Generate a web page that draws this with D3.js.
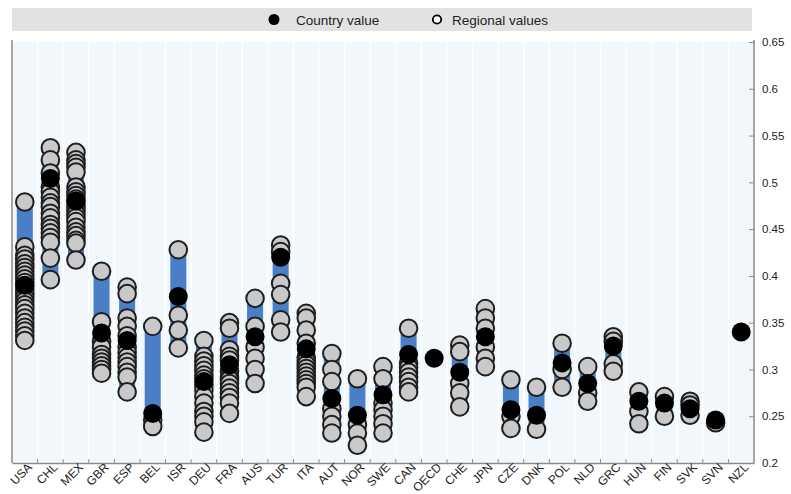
<!DOCTYPE html>
<html>
<head>
<meta charset="utf-8">
<script src="https://cdn.jsdelivr.net/npm/d3@7"></script>
<style>
  body { margin: 0; background: #fff; }
  text { font-family: "Liberation Sans Narrow", "Arial Narrow", "Liberation Sans", Arial, sans-serif; fill: #222; }
</style>
</head>
<body>
<div class="chart"></div>
<script>
const countries = ["USA","CHL","MEX","GBR","ESP","BEL","ISR","DEU","FRA","AUS","TUR","ITA","AUT","NOR","SWE","CAN","OECD","CHE","JPN","CZE","DNK","POL","NLD","GRC","HUN","FIN","SVK","SVN","NZL"];

const countryValue = [0.39,0.504,0.48,0.339,0.331,0.253,0.378,0.287,0.305,0.335,0.42,0.322,0.269,0.251,0.273,0.316,0.312,0.297,0.335,0.257,0.251,0.307,0.285,0.325,0.266,0.264,0.258,0.246,0.34];

const regionalValues = [
  [0.479,0.431,0.422,0.418,0.413,0.409,0.405,0.401,0.397,0.393,0.389,0.385,0.381,0.377,0.373,0.369,0.365,0.36,0.355,0.35,0.345,0.341,0.336,0.331],
  [0.537,0.524,0.51,0.495,0.49,0.484,0.478,0.474,0.467,0.462,0.455,0.451,0.446,0.441,0.436,0.419,0.396],
  [0.532,0.524,0.52,0.516,0.511,0.495,0.49,0.486,0.482,0.478,0.474,0.47,0.466,0.462,0.458,0.452,0.447,0.443,0.438,0.435,0.417],
  [0.405,0.351,0.33,0.324,0.316,0.312,0.308,0.304,0.3,0.296],
  [0.388,0.381,0.355,0.346,0.336,0.324,0.318,0.313,0.308,0.303,0.297,0.292,0.276],
  [0.346,0.246,0.239],
  [0.428,0.358,0.342,0.323],
  [0.331,0.314,0.309,0.304,0.299,0.294,0.29,0.283,0.278,0.271,0.264,0.255,0.25,0.244,0.233],
  [0.35,0.344,0.321,0.314,0.31,0.298,0.292,0.289,0.285,0.28,0.275,0.27,0.264,0.253],
  [0.376,0.346,0.324,0.312,0.3,0.285],
  [0.433,0.426,0.392,0.38,0.353,0.34],
  [0.36,0.355,0.342,0.328,0.313,0.309,0.305,0.301,0.297,0.293,0.289,0.285,0.281,0.271],
  [0.317,0.3,0.287,0.258,0.25,0.241,0.232],
  [0.29,0.241,0.232,0.219],
  [0.303,0.29,0.264,0.257,0.25,0.242,0.232],
  [0.344,0.307,0.302,0.297,0.292,0.287,0.281,0.276],
  [],
  [0.326,0.319,0.285,0.275,0.26],
  [0.365,0.355,0.344,0.324,0.312,0.303],
  [0.289,0.25,0.237],
  [0.281,0.236],
  [0.328,0.3,0.281],
  [0.303,0.275,0.266],
  [0.335,0.33,0.306,0.298],
  [0.276,0.255,0.242],
  [0.271,0.25],
  [0.266,0.262,0.251],
  [0.243],
  []
];

const yTicks = [0.2,0.25,0.3,0.35,0.4,0.45,0.5,0.55,0.6,0.65];

const W = 791, H = 494;
const plot = {left: 12, right: 754, top: 42, bottom: 463};

const svg = d3.select(".chart").append("svg")
  .attr("width", W).attr("height", H);

const x = d3.scaleBand().domain(countries).range([plot.left, plot.right]);
const y = d3.scaleLinear().domain([0.2, 0.65]).range([plot.bottom, plot.top]);

// legend band
svg.append("rect")
  .attr("x", 12).attr("y", 8).attr("width", 740).attr("height", 23)
  .attr("fill", "#e2e2e2");
svg.append("circle").attr("cx", 274).attr("cy", 19.5).attr("r", 5.5).attr("fill", "#000");
svg.append("text").attr("x", 296).attr("y", 24.5).attr("font-size", "13.5px").text("Country value");
svg.append("circle").attr("cx", 437).attr("cy", 19.5).attr("r", 4.2)
  .attr("fill", "#fff").attr("stroke", "#000").attr("stroke-width", 1.8);
svg.append("text").attr("x", 452).attr("y", 24.5).attr("font-size", "13.5px").text("Regional values");

// plot background
svg.append("rect")
  .attr("x", plot.left).attr("y", plot.top)
  .attr("width", plot.right - plot.left).attr("height", plot.bottom - plot.top)
  .attr("fill", "#f1f7fb");

svg.append("g").selectAll("line.grid")
  .data(countries.slice(1))
  .enter().append("line")
  .attr("x1", d => x(d)).attr("x2", d => x(d))
  .attr("y1", plot.top).attr("y2", plot.bottom)
  .attr("stroke", "#fcfeff").attr("stroke-width", 1.5);

// blue range bars
const rows = countries.map((c, i) => ({c, v: countryValue[i], r: regionalValues[i]}));

svg.append("g").selectAll("rect")
  .data(rows.filter(d => d.r.length > 0))
  .enter().append("rect")
  .attr("x", d => x(d.c) + x.bandwidth() / 2 - 8)
  .attr("width", 16)
  .attr("y", d => y(d3.max(d.r)))
  .attr("height", d => y(d3.min(d.r)) - y(d3.max(d.r)))
  .attr("fill", "#4a7fc8");

// regional circles
const pts = [];
rows.forEach(d => d.r.forEach(v => pts.push({c: d.c, v})));

svg.append("g").selectAll("circle")
  .data(pts)
  .enter().append("circle")
  .attr("cx", d => x(d.c) + x.bandwidth() / 2)
  .attr("cy", d => y(d.v))
  .attr("r", 8.8)
  .attr("fill", "#c9c9c9")
  .attr("stroke", "#1e1e1e")
  .attr("stroke-width", 2);

// country values
svg.append("g").selectAll("circle")
  .data(rows)
  .enter().append("circle")
  .attr("cx", d => x(d.c) + x.bandwidth() / 2)
  .attr("cy", d => y(d.v))
  .attr("r", 9.5)
  .attr("fill", "#000");

// axes frame
svg.append("line").attr("x1", plot.left).attr("x2", plot.left)
  .attr("y1", plot.top - 2).attr("y2", plot.bottom).attr("stroke", "#8a8a8a").attr("stroke-width", 1.5);
svg.append("line").attr("x1", plot.right).attr("x2", plot.right)
  .attr("y1", plot.top - 2).attr("y2", plot.bottom).attr("stroke", "#8a8a8a").attr("stroke-width", 1.5);

// right y axis
const yAxis = d3.axisRight(y).tickValues(yTicks).tickSize(0).tickPadding(8)
  .tickFormat(d => d3.format("")(+d.toFixed(2)));
const gy = svg.append("g")
  .attr("transform", `translate(${plot.right},0)`)
  .call(yAxis);
gy.select(".domain").remove();
gy.selectAll("text").attr("font-size", "11.5px").attr("fill", "#222");
gy.selectAll(".tick").append("line")
  .attr("x1", -5).attr("x2", 0).attr("stroke", "#8a8a8a");

// bottom x axis
const xAxis = d3.axisBottom(x).tickSize(0).tickPadding(0);
const gx = svg.append("g")
  .attr("transform", `translate(0,${plot.bottom})`)
  .call(xAxis);
gx.select(".domain").attr("stroke", "#8a8a8a").attr("stroke-width", 1.5);
gx.selectAll(".tick text")
  .attr("font-size", "12px")
  .attr("fill", "#222")
  .attr("text-anchor", "end")
  .attr("dy", 0)
  .attr("transform", "translate(8,5) rotate(-45)");

svg.append("g").selectAll("line.xt")
  .data(countries.slice(1))
  .enter().append("line")
  .attr("x1", d => x(d)).attr("x2", d => x(d))
  .attr("y1", plot.bottom - 4).attr("y2", plot.bottom)
  .attr("stroke", "#8a8a8a");
</script>
</body>
</html>
